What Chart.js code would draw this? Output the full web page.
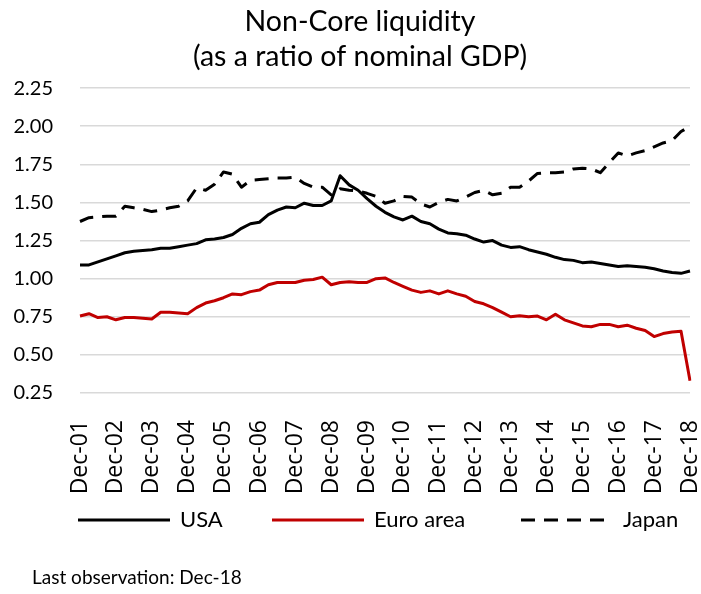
<!DOCTYPE html>
<html>
<head>
<meta charset="utf-8">
<script src="https://cdn.jsdelivr.net/npm/chart.js@4/dist/chart.umd.min.js"></script>
<style>
  body { margin: 0; background: #fff; }
  canvas { display: block; }
</style>
</head>
<body>
<canvas id="liquidity_chart" width="701" height="594"></canvas>
<script>
// quarterly observations, Dec-01 .. Dec-18
const quarters = [
    "Dec-01",
    "Mar-02", "Jun-02", "Sep-02", "Dec-02",
    "Mar-03", "Jun-03", "Sep-03", "Dec-03",
    "Mar-04", "Jun-04", "Sep-04", "Dec-04",
    "Mar-05", "Jun-05", "Sep-05", "Dec-05",
    "Mar-06", "Jun-06", "Sep-06", "Dec-06",
    "Mar-07", "Jun-07", "Sep-07", "Dec-07",
    "Mar-08", "Jun-08", "Sep-08", "Dec-08",
    "Mar-09", "Jun-09", "Sep-09", "Dec-09",
    "Mar-10", "Jun-10", "Sep-10", "Dec-10",
    "Mar-11", "Jun-11", "Sep-11", "Dec-11",
    "Mar-12", "Jun-12", "Sep-12", "Dec-12",
    "Mar-13", "Jun-13", "Sep-13", "Dec-13",
    "Mar-14", "Jun-14", "Sep-14", "Dec-14",
    "Mar-15", "Jun-15", "Sep-15", "Dec-15",
    "Mar-16", "Jun-16", "Sep-16", "Dec-16",
    "Mar-17", "Jun-17", "Sep-17", "Dec-17",
    "Mar-18", "Jun-18", "Sep-18", "Dec-18"
];

const usa = [
    1.09, 1.09, 1.11, 1.13, 1.15, 1.17, 1.18, 1.185, 1.19, 1.20,
    1.20, 1.21, 1.22, 1.23, 1.255, 1.26, 1.27, 1.29, 1.33, 1.36,
    1.37, 1.42, 1.45, 1.47, 1.465, 1.495, 1.48, 1.48, 1.51, 1.675,
    1.615, 1.58, 1.525, 1.475, 1.435, 1.405, 1.385, 1.41, 1.375, 1.36,
    1.325, 1.30, 1.295, 1.285, 1.26, 1.24, 1.25, 1.22, 1.205, 1.21,
    1.19, 1.175, 1.16, 1.14, 1.125, 1.12, 1.105, 1.11, 1.10, 1.09,
    1.08, 1.085, 1.08, 1.075, 1.065, 1.05, 1.04, 1.035, 1.05
];

const euroArea = [
    0.755, 0.77, 0.745, 0.75, 0.73, 0.745, 0.745, 0.74, 0.735, 0.78,
    0.78, 0.775, 0.77, 0.81, 0.84, 0.855, 0.875, 0.90, 0.895, 0.915,
    0.925, 0.96, 0.975, 0.975, 0.975, 0.99, 0.995, 1.01, 0.96, 0.975,
    0.98, 0.975, 0.975, 1.00, 1.005, 0.975, 0.95, 0.925, 0.91, 0.92,
    0.90, 0.92, 0.90, 0.885, 0.85, 0.835, 0.81, 0.78, 0.75, 0.757,
    0.75, 0.755, 0.73, 0.767, 0.73, 0.71, 0.69, 0.685, 0.70, 0.70,
    0.685, 0.695, 0.675, 0.66, 0.62, 0.64, 0.65, 0.655, 0.33
];

const japan = [
    1.375, 1.40, 1.405, 1.41, 1.41, 1.475, 1.465, 1.455, 1.44, 1.45,
    1.465, 1.475, 1.51, 1.595, 1.58, 1.62, 1.70, 1.685, 1.60, 1.645,
    1.65, 1.655, 1.66, 1.66, 1.665, 1.625, 1.60, 1.60, 1.55, 1.59,
    1.58, 1.575, 1.56, 1.54, 1.495, 1.51, 1.54, 1.535, 1.49, 1.47,
    1.50, 1.52, 1.51, 1.535, 1.565, 1.58, 1.55, 1.56, 1.60, 1.60,
    1.64, 1.69, 1.695, 1.695, 1.70, 1.72, 1.725, 1.72, 1.695, 1.76,
    1.825, 1.805, 1.825, 1.84, 1.865, 1.89, 1.905, 1.965, 2.00
];

const yTicks = [0.25, 0.50, 0.75, 1.00, 1.25, 1.50, 1.75, 2.00, 2.25];

const footnote = "Last observation: Dec-18";

// legend drawn by hand so the three entries sit on one row like the original
const legendRow = {
    id: "legendRow",
    afterDraw(chart) {
        const c = chart.ctx;
        const starts = [78, 272, 521];
        const y = 520;
        c.save();
        c.font = "22px Lato";
        c.textBaseline = "middle";
        chart.data.datasets.forEach((ds, i) => {
            c.beginPath();
            c.strokeStyle = ds.borderColor;
            c.lineWidth = ds.borderWidth;
            c.setLineDash(ds.borderDash || []);
            c.moveTo(starts[i], y);
            c.lineTo(starts[i] + 92, y);
            c.stroke();
            c.fillStyle = "#000";
            c.fillText(ds.label, starts[i] + 102, y);
        });
        c.setLineDash([]);
        c.font = "19px Lato";
        c.fillText(footnote, 32, 578);
        c.restore();
    }
};

Chart.defaults.font.family = "Lato, 'Open Sans', sans-serif";
Chart.defaults.color = "#000";

const ctx = document.getElementById("liquidity_chart");
const liquidity_chart = new Chart(ctx, {
    type: "line",
    data: {
        labels: quarters,
        datasets: [{
            label: "USA",
            data: usa,
            borderColor: "#000000",
            backgroundColor: "#000000",
            borderWidth: 3,
        }, {
            label: "Euro area",
            data: euroArea,
            borderColor: "#c00000",
            backgroundColor: "#c00000",
            borderWidth: 3,
        }, {
            label: "Japan",
            data: japan,
            borderColor: "#000000",
            backgroundColor: "#000000",
            borderWidth: 3,
            borderDash: [14, 9],
        }]
    },
    options: {
        responsive: false,
        animation: false,
        layout: {
            padding: { left: 30, right: 11, top: 0, bottom: 91 }
        },
        elements: {
            point: { radius: 0, hoverRadius: 0 },
            line: { tension: 0, borderCapStyle: "butt", borderJoinStyle: "round" }
        },
        plugins: {
            tooltip: { enabled: false },
            legend: { display: false },
            title: {
                display: true,
                text: ["Non-Core liquidity", "(as a ratio of nominal GDP)"],
                color: "#000",
                font: { size: 28.5, weight: "normal", lineHeight: 1.23 },
                padding: { top: 4.5, bottom: 13.5 }
            }
        },
        scales: {
            x: {
                grid: { display: false },
                border: { display: false },
                ticks: {
                    autoSkip: false,
                    minRotation: 90,
                    maxRotation: 90,
                    padding: 19,
                    font: { family: "'Open Sans'", size: 23 },
                    callback: function(value, index) {
                        return index % 4 === 0 ? quarters[index] : "";
                    }
                },
                afterFit: function(scale) {
                    scale.height = 110;
                    scale.paddingLeft = 0;
                    scale.paddingRight = 0;
                }
            },
            y: {
                min: yTicks[0],
                max: yTicks[yTicks.length - 1],
                afterBuildTicks: function(scale) {
                    scale.ticks = yTicks.map(v => ({ value: v }));
                },
                grid: { color: "#d9d9d9", lineWidth: 1.5, drawTicks: false },
                border: { display: false },
                ticks: {
                    padding: 27,
                    font: { size: 20 },
                    callback: v => v.toFixed(2)
                },
                afterFit: function(scale) {
                    scale.width = 50;
                    // labels reach past the narrow box; don't clip them
                    scale._computeLabelArea = function() {};
                }
            }
        }
    },
    plugins: [legendRow]
});
</script>
</body>
</html>
